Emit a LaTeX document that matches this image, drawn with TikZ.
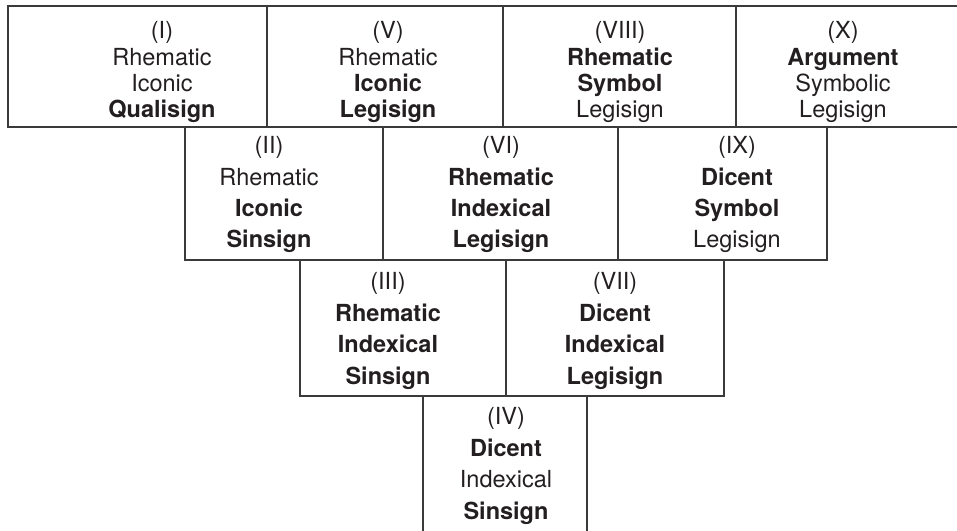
\documentclass[tikz,border=0pt]{standalone}
\usepackage{fontspec}
\setmainfont{TeX Gyre Heros}
\definecolor{inkgray}{HTML}{231F20}
\definecolor{rulegray}{HTML}{3A3A3A}
\tikzset{
  rule/.style={draw=rulegray, line width=1.2bp, line cap=rect},
  signtext/.style={anchor=base, align=center, inner sep=0pt, text=inkgray},
  toprow/.style={signtext, font=\fontsize{23.6}{26.5}\selectfont},
  lowrow/.style={signtext, font=\fontsize{23.6}{31.6}\selectfont},
}
\begin{document}
\begin{tikzpicture}[x=1bp, y=-1bp, line join=miter]
\useasboundingbox (0,0) rectangle (957,531);
% grid corners
\coordinate (a1) at (8,6);    \coordinate (a2) at (8,127);
\coordinate (b1) at (185,127); \coordinate (b2) at (185,260);
\coordinate (c1) at (300,260); \coordinate (c2) at (300,396);
\coordinate (d1) at (423,396); \coordinate (d2) at (423,535);
\coordinate (e1) at (587,396); \coordinate (e2) at (587,535);
\coordinate (f1) at (724,260); \coordinate (f2) at (724,396);
\coordinate (g1) at (827,127); \coordinate (g2) at (827,260);
% row one
\draw[rule] (960,6) -- (a1) -- (a2) -- (960,127);
\foreach \x in {267,503,736} \draw[rule] (\x,6) -- (\x,127);
% row two
\draw[rule] (b1) -- (b2) -- (g2) -- (g1);
\foreach \x in {383,618} \draw[rule] (\x,127) -- (\x,260);
% row three
\draw[rule] (c1) -- (c2) -- (f2) -- (f1);
\draw[rule] (506,260) -- (506,396);
% row four
\draw[rule] (d1) -- (d2);
\draw[rule] (e1) -- (e2);
% classes (anchored at the last line)
\node[toprow] (s1) at (162,118) {(I)\\Rhematic\\Iconic\\\textbf{Qualisign}};
\node[toprow] (s5) at (388,118) {(V)\\Rhematic\\\textbf{Iconic}\\\textbf{Legisign}};
\node[toprow] (s8) at (620,118) {(VIII)\\\textbf{Rhematic}\\\textbf{Symbol}\\Legisign};
\node[toprow] (s10) at (843,118) {(X)\\\textbf{Argument}\\Symbolic\\Legisign};
\node[lowrow] (s2) at (269,248) {(II)\\Rhematic\\\textbf{Iconic}\\\textbf{Sinsign}};
\node[lowrow] (s6) at (501,248) {(VI)\\\textbf{Rhematic}\\\textbf{Indexical}\\\textbf{Legisign}};
\node[lowrow] (s9) at (737,248) {(IX)\\\textbf{Dicent}\\\textbf{Symbol}\\Legisign};
\node[lowrow] (s3) at (388,384) {(III)\\\textbf{Rhematic}\\\textbf{Indexical}\\\textbf{Sinsign}};
\node[lowrow] (s7) at (615,384) {(VII)\\\textbf{Dicent}\\\textbf{Indexical}\\\textbf{Legisign}};
\node[lowrow] (s4) at (506,519) {(IV)\\\textbf{Dicent}\\Indexical\\\textbf{Sinsign}};
\end{tikzpicture}
\end{document}
